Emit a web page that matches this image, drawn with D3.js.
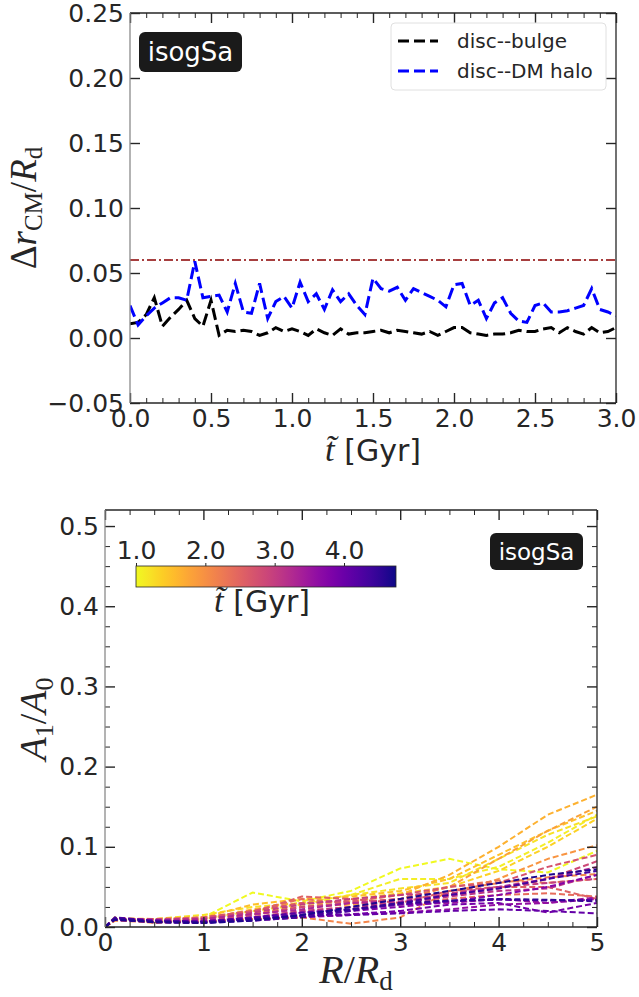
<!DOCTYPE html>
<html>
<head>
<meta charset="utf-8">
<script src="https://cdn.jsdelivr.net/npm/d3@7"></script>
<style>
  body { margin: 0; background: #fff; }
  svg { display: block; }
  text { fill: #262626; }
</style>
</head>
<body>
<div id="chart"></div>
<script>
// top panel: centre-of-mass offsets vs time
const times = [0.00, 0.05, 0.10, 0.15, 0.20, 0.25, 0.30, 0.35, 0.40, 0.45,
  0.50, 0.55, 0.60, 0.65, 0.70, 0.75, 0.80, 0.85, 0.90, 0.95,
  1.00, 1.05, 1.10, 1.15, 1.20, 1.25, 1.30, 1.35, 1.40, 1.45,
  1.50, 1.55, 1.60, 1.65, 1.70, 1.75, 1.80, 1.85, 1.90, 1.95,
  2.00, 2.05, 2.10, 2.15, 2.20, 2.25, 2.30, 2.35, 2.40, 2.45,
  2.50, 2.55, 2.60, 2.65, 2.70, 2.75, 2.80, 2.85, 2.90, 2.95, 3.00];

const discBulge = [0.011, 0.012, 0.018, 0.031, 0.009, 0.016, 0.022, 0.029, 0.015, 0.009,
  0.029, 0.002, 0.006, 0.005, 0.006, 0.005, 0.002, 0.004, 0.008, 0.005,
  0.007, 0.005, 0.002, 0.007, 0.004, 0.002, 0.007, 0.003, 0.004, 0.004,
  0.005, 0.006, 0.004, 0.006, 0.005, 0.004, 0.003, 0.005, 0.002, 0.005,
  0.008, 0.008, 0.004, 0.003, 0.002, 0.003, 0.003, 0.004, 0.006, 0.005,
  0.005, 0.007, 0.008, 0.004, 0.008, 0.005, 0.003, 0.008, 0.004, 0.005, 0.008];

const discHalo = [0.025, 0.010, 0.017, 0.023, 0.027, 0.031, 0.031, 0.029, 0.059, 0.031,
  0.032, 0.033, 0.020, 0.042, 0.020, 0.019, 0.042, 0.015, 0.028, 0.032,
  0.023, 0.043, 0.028, 0.034, 0.022, 0.037, 0.028, 0.034, 0.025, 0.018,
  0.046, 0.038, 0.036, 0.039, 0.029, 0.038, 0.035, 0.032, 0.029, 0.024,
  0.041, 0.042, 0.025, 0.029, 0.015, 0.027, 0.031, 0.019, 0.013, 0.012,
  0.025, 0.027, 0.020, 0.020, 0.021, 0.023, 0.025, 0.038, 0.022, 0.020, 0.017];

const thresholdValue = 0.06;
const topXTicks = [0.0, 0.5, 1.0, 1.5, 2.0, 2.5, 3.0];
const topYTicks = [-0.05, 0.00, 0.05, 0.10, 0.15, 0.20, 0.25];

// bottom panel: A1/A0 radial profiles, one per snapshot time
const radii = [0, 0.1, 0.5, 1.0, 1.5, 2.0, 2.5, 3.0, 3.5, 4.0, 4.5, 5.0];
const snapTimes = [1.00, 1.10, 1.20, 1.35, 1.50, 1.65, 1.80, 1.95, 2.10, 2.25,
  2.40, 2.55, 2.70, 2.85, 3.00, 3.15, 3.30, 3.45, 3.60, 3.75,
  3.90, 4.05, 4.20, 4.35, 4.50, 4.65];
const a1Profiles = [
  [0, 0.010, 0.008, 0.012, 0.043, 0.032, 0.045, 0.073, 0.085, 0.072, 0.068, 0.095],
  [0, 0.012, 0.006, 0.010, 0.020, 0.028, 0.040, 0.060, 0.060, 0.075, 0.105, 0.140],
  [0, 0.008, 0.010, 0.015, 0.025, 0.030, 0.040, 0.048, 0.055, 0.085, 0.115, 0.138],
  [0, 0.010, 0.008, 0.008, 0.018, 0.025, 0.035, 0.042, 0.050, 0.070, 0.100, 0.135],
  [0, 0.011, 0.010, 0.012, 0.028, 0.035, 0.038, 0.045, 0.060, 0.090, 0.120, 0.145],
  [0, 0.009, 0.008, 0.010, 0.022, 0.030, 0.032, 0.040, 0.065, 0.100, 0.140, 0.165],
  [0, 0.010, 0.006, 0.008, 0.016, 0.025, 0.028, 0.035, 0.050, 0.085, 0.120, 0.150],
  [0, 0.010, 0.005, 0.008, 0.012, 0.020, 0.025, 0.030, 0.040, 0.060, 0.085, 0.102],
  [0, 0.008, 0.006, 0.007, 0.010, 0.012, 0.004, 0.012, 0.045, 0.055, 0.062, 0.066],
  [0, 0.010, 0.008, 0.006, 0.015, 0.025, 0.030, 0.035, 0.050, 0.058, 0.055, 0.060],
  [0, 0.009, 0.010, 0.012, 0.020, 0.035, 0.030, 0.028, 0.035, 0.040, 0.042, 0.038],
  [0, 0.010, 0.008, 0.010, 0.018, 0.038, 0.035, 0.030, 0.045, 0.050, 0.050, 0.035],
  [0, 0.011, 0.008, 0.012, 0.020, 0.030, 0.032, 0.040, 0.050, 0.055, 0.075, 0.090],
  [0, 0.010, 0.010, 0.008, 0.015, 0.025, 0.030, 0.035, 0.040, 0.048, 0.060, 0.082],
  [0, 0.009, 0.006, 0.010, 0.018, 0.028, 0.035, 0.040, 0.042, 0.050, 0.055, 0.060],
  [0, 0.010, 0.008, 0.006, 0.012, 0.020, 0.025, 0.030, 0.038, 0.045, 0.048, 0.065],
  [0, 0.011, 0.009, 0.010, 0.016, 0.022, 0.030, 0.032, 0.040, 0.050, 0.060, 0.075],
  [0, 0.010, 0.007, 0.008, 0.010, 0.018, 0.022, 0.028, 0.030, 0.035, 0.030, 0.037],
  [0, 0.009, 0.006, 0.006, 0.008, 0.012, 0.015, 0.018, 0.022, 0.028, 0.030, 0.035],
  [0, 0.010, 0.008, 0.007, 0.012, 0.015, 0.020, 0.025, 0.032, 0.040, 0.050, 0.065],
  [0, 0.011, 0.006, 0.005, 0.010, 0.014, 0.016, 0.020, 0.028, 0.030, 0.018, 0.030],
  [0, 0.010, 0.007, 0.006, 0.010, 0.013, 0.015, 0.017, 0.020, 0.022, 0.020, 0.017],
  [0, 0.012, 0.008, 0.007, 0.012, 0.018, 0.022, 0.028, 0.032, 0.034, 0.033, 0.034],
  [0, 0.010, 0.006, 0.005, 0.008, 0.012, 0.020, 0.030, 0.040, 0.048, 0.060, 0.070],
  [0, 0.011, 0.007, 0.006, 0.010, 0.015, 0.022, 0.030, 0.033, 0.035, 0.034, 0.032],
  [0, 0.009, 0.006, 0.005, 0.008, 0.015, 0.025, 0.035, 0.045, 0.055, 0.065, 0.072]
];
const bottomXTicks = [0, 1, 2, 3, 4, 5];
const bottomYTicks = [0.0, 0.1, 0.2, 0.3, 0.4, 0.5];
const cbarTicks = [1.0, 2.0, 3.0, 4.0];
const cbarDomain = [1.0, 4.75];

const W = 639, H = 997;
const FONT = "'DejaVu Sans', sans-serif";
const MATH = "'Liberation Serif', 'DejaVu Serif', serif";
const INK = '#262626';
const TICK_FS = 25;

const svg = d3.select('#chart').append('svg')
  .attr('width', W).attr('height', H);

// helper: ticks pointing inward on all four sides
function frame(g, x, y, opts) {
  const [x0, x1] = x.range();
  const [y0, y1] = y.range(); // y0 bottom, y1 top

  const add = (axis, tx, ty, size, vals, labels) => {
    const a = g.append('g').attr('transform', `translate(${tx},${ty})`)
      .call(axis.tickValues(vals).tickSize(-size).tickPadding(labels ? 6 : 0)
        .tickFormat(labels || (() => '')));
    a.select('.domain').remove();
    a.selectAll('line').attr('stroke', INK).attr('stroke-width', size > 6 ? 1.4 : 1);
    a.selectAll('text').attr('font-family', FONT).attr('font-size', TICK_FS).attr('fill', INK);
    return a;
  };
  add(d3.axisBottom(x), 0, y0, 10, opts.xTicks, opts.xFmt);
  add(d3.axisTop(x), 0, y1, 10, opts.xTicks, null);
  add(d3.axisLeft(y), x0, 0, 10, opts.yTicks, opts.yFmt);
  add(d3.axisRight(y), x1, 0, 10, opts.yTicks, null);
  if (opts.xMinor) {
    add(d3.axisBottom(x), 0, y0, 5, opts.xMinor, null);
    add(d3.axisTop(x), 0, y1, 5, opts.xMinor, null);
  }
  if (opts.yMinor) {
    add(d3.axisLeft(y), x0, 0, 5, opts.yMinor, null);
    add(d3.axisRight(y), x1, 0, 5, opts.yMinor, null);
  }
  // spines
  g.append('line').attr('x1', x0).attr('x2', x1).attr('y1', y0).attr('y2', y0)
    .attr('stroke', INK).attr('stroke-width', 1.3);
  g.append('line').attr('x1', x0).attr('x2', x1).attr('y1', y1).attr('y2', y1)
    .attr('stroke', INK).attr('stroke-width', 1.3);
  g.append('line').attr('x1', x1).attr('x2', x1).attr('y1', y0).attr('y2', y1)
    .attr('stroke', INK).attr('stroke-width', 1.3);
  g.append('line').attr('x1', x0).attr('x2', x0).attr('y1', y0).attr('y2', y1)
    .attr('stroke', '#8a8a8a').attr('stroke-width', 1.3);
}

function tagBox(g, cx, cy, w, h, size) {
  g.append('rect').attr('x', cx - w / 2).attr('y', cy - h / 2)
    .attr('width', w).attr('height', h).attr('rx', 6).attr('fill', '#1a1a1a');
  g.append('text').attr('x', cx).attr('y', cy).attr('dy', '0.35em')
    .attr('text-anchor', 'middle').attr('font-family', FONT).attr('font-size', size)
    .style('fill', '#fff').text('isogSa');
}

// ---------------- top panel ----------------
const xTop = d3.scaleLinear().domain([0, 3]).range([130, 616]);
const yTop = d3.scaleLinear().domain([-0.05, 0.25]).range([403, 13]);
const topG = svg.append('g');

svg.append('clipPath').attr('id', 'clipTop').append('rect')
  .attr('x', 130).attr('y', 13).attr('width', 486).attr('height', 390);

const plotTop = topG.append('g').attr('clip-path', 'url(#clipTop)');
plotTop.append('line')
  .attr('x1', xTop(0)).attr('x2', xTop(3))
  .attr('y1', yTop(thresholdValue)).attr('y2', yTop(thresholdValue))
  .attr('stroke', '#8b0000').attr('stroke-width', 1.6)
  .attr('stroke-dasharray', '9,3,2,3');

const lineTop = (vals) => d3.line().x((d, i) => xTop(times[i])).y(d => yTop(d))(vals);
plotTop.append('path').attr('d', lineTop(discBulge))
  .attr('fill', 'none').attr('stroke', '#000').attr('stroke-width', 3)
  .attr('stroke-dasharray', '12,5');
plotTop.append('path').attr('d', lineTop(discHalo))
  .attr('fill', 'none').attr('stroke', '#0000ff').attr('stroke-width', 3)
  .attr('stroke-dasharray', '12,5');

frame(topG, xTop, yTop, {
  xTicks: topXTicks, yTicks: topYTicks,
  xFmt: d3.format('.1f'), yFmt: d3.format('.2f'),
  xMinor: d3.range(0, 3.001, 0.1).filter(v => Math.abs(v * 2 - Math.round(v * 2)) > 1e-6)
});

tagBox(topG, 190.5, 52, 103, 40, 26);

// legend
const leg = topG.append('g');
leg.append('rect').attr('x', 391).attr('y', 23).attr('width', 215).attr('height', 67)
  .attr('rx', 4).attr('fill', '#fff').attr('stroke', '#e0e0e0').attr('stroke-width', 1);
[{ label: 'disc--bulge', color: '#000' }, { label: 'disc--DM halo', color: '#0000ff' }]
  .forEach((item, i) => {
    const yy = 41 + i * 30;
    leg.append('line').attr('x1', 398).attr('x2', 438).attr('y1', yy).attr('y2', yy)
      .attr('stroke', item.color).attr('stroke-width', 3).attr('stroke-dasharray', '11,5');
    leg.append('text').attr('x', 457).attr('y', yy).attr('dy', '0.35em')
      .attr('font-family', FONT).attr('font-size', 20).text(item.label);
  });

// axis labels
const tLabel = (g, x, y, size) => {
  const t = g.append('text').attr('x', x).attr('y', y).attr('text-anchor', 'middle')
    .attr('font-size', size);
  t.append('tspan').attr('font-family', MATH).attr('font-style', 'italic')
    .attr('font-size', size * 1.15).text('t\u0303');
  t.append('tspan').attr('font-family', FONT).text(' [Gyr]');
};
tLabel(topG, 373, 461, 30);

const yl = topG.append('text').attr('transform', 'translate(36,208) rotate(-90)')
  .attr('text-anchor', 'middle').attr('font-family', MATH).attr('font-size', 37);
yl.append('tspan').text('\u0394');
yl.append('tspan').attr('font-style', 'italic').text('r');
yl.append('tspan').attr('font-size', 25).attr('dy', 6).text('CM');
yl.append('tspan').attr('dy', -6).text('/');
yl.append('tspan').attr('font-style', 'italic').text('R');
yl.append('tspan').attr('font-size', 25).attr('dy', 6).text('d');

// ---------------- bottom panel ----------------
const xBot = d3.scaleLinear().domain([0, 5]).range([105, 597]);
const yBot = d3.scaleLinear().domain([0, 0.52]).range([927, 510]);
const color = d3.scaleSequential(t => d3.interpolatePlasma(1 - t)).domain(cbarDomain);
const botG = svg.append('g');

svg.append('clipPath').attr('id', 'clipBot').append('rect')
  .attr('x', 105).attr('y', 510).attr('width', 492).attr('height', 417);

const plotBot = botG.append('g').attr('clip-path', 'url(#clipBot)');
const lineBot = d3.line().x((d, i) => xBot(radii[i])).y(d => yBot(d));
plotBot.selectAll('path.profile').data(a1Profiles).enter().append('path')
  .attr('class', 'profile')
  .attr('d', d => lineBot(d))
  .attr('fill', 'none')
  .attr('stroke', (d, i) => color(snapTimes[i]))
  .attr('stroke-width', 2)
  .attr('stroke-dasharray', '6,3');

frame(botG, xBot, yBot, {
  xTicks: bottomXTicks, yTicks: bottomYTicks,
  xFmt: d3.format('d'), yFmt: d3.format('.1f'),
  xMinor: d3.range(0, 5.001, 0.25).filter(v => Math.abs(v - Math.round(v)) > 1e-6),
  yMinor: d3.range(0, 0.5201, 0.025).filter(v => Math.abs(v * 10 - Math.round(v * 10)) > 1e-6)
});

tagBox(botG, 536.5, 551.5, 93, 37, 23);

// colorbar
const cx = d3.scaleLinear().domain(cbarDomain).range([136, 396]);
const grad = svg.append('defs').append('linearGradient').attr('id', 'cbar')
  .attr('x1', '0%').attr('x2', '100%');
d3.range(0, 1.0001, 0.05).forEach(s => {
  grad.append('stop').attr('offset', (s * 100) + '%')
    .attr('stop-color', color(cbarDomain[0] + s * (cbarDomain[1] - cbarDomain[0])));
});
botG.append('rect').attr('x', 136).attr('y', 566).attr('width', 260).attr('height', 21)
  .attr('fill', 'url(#cbar)').attr('stroke', INK).attr('stroke-width', 0.8);
const cb = botG.append('g').attr('transform', 'translate(0,566)')
  .call(d3.axisTop(cx).tickValues(cbarTicks).tickSize(3).tickPadding(4).tickFormat(d3.format('.1f')));
cb.select('.domain').remove();
cb.selectAll('line').attr('stroke', INK);
cb.selectAll('text').attr('font-family', FONT).attr('font-size', TICK_FS).attr('fill', INK);
tLabel(botG, 262, 612, 30);

const yl2 = botG.append('text').attr('transform', 'translate(46,719) rotate(-90)')
  .attr('text-anchor', 'middle').attr('font-family', MATH).attr('font-size', 38);
yl2.append('tspan').attr('font-style', 'italic').text('A');
yl2.append('tspan').attr('font-size', 26).attr('dy', 7).text('1');
yl2.append('tspan').attr('dy', -7).text('/');
yl2.append('tspan').attr('font-style', 'italic').text('A');
yl2.append('tspan').attr('font-size', 26).attr('dy', 7).text('0');

const xl2 = botG.append('text').attr('x', 356).attr('y', 983)
  .attr('text-anchor', 'middle').attr('font-family', MATH).attr('font-size', 40);
xl2.append('tspan').attr('font-style', 'italic').text('R');
xl2.append('tspan').text('/');
xl2.append('tspan').attr('font-style', 'italic').text('R');
xl2.append('tspan').attr('font-size', 27).attr('dy', 7).text('d');
</script>
</body>
</html>
